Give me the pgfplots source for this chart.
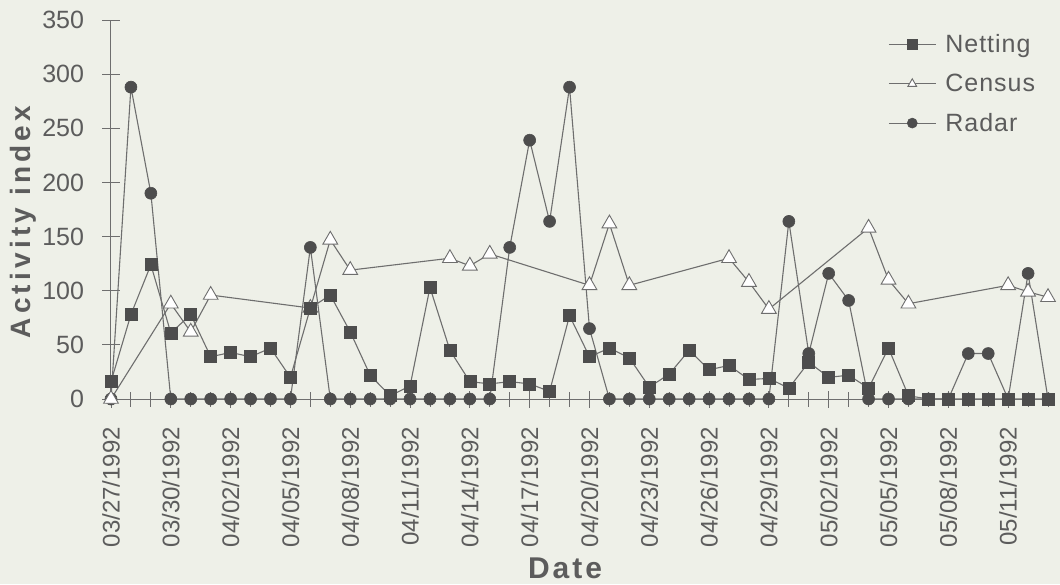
\documentclass[border=0pt]{standalone}
\usepackage{fontspec}
\setmainfont{Liberation Sans}
\newfontfamily\ylabfont[LetterSpace=15]{Liberation Sans Bold}
\newfontfamily\xlabfont[LetterSpace=10]{Liberation Sans Bold}
\newfontfamily\legfont[LetterSpace=4]{Liberation Sans}
\usepackage{pgfplots}
\pgfplotsset{compat=1.18}
\definecolor{bg}{HTML}{EEF0E8}
\definecolor{txt}{HTML}{5C5C5C}
\definecolor{ln}{HTML}{6E6E6E}
\definecolor{mk}{HTML}{4D4D4D}

\pgfplotstableread{
d v
0 16
1 78
2 124
3 61
4 78
5 39
6 43
7 39
8 47
9 20
10 84
11 96
12 62
13 22
14 3
15 12
16 103
17 45
18 16
19 14
20 16
21 14
22 7
23 77
24 39
25 47
26 38
27 11
28 23
29 45
30 27
31 31
32 18
33 19
34 10
35 34
36 20
37 22
38 10
39 47
40 3
41 0
42 0
43 0
44 0
45 0
46 0
47 0
}\netting

\pgfplotstableread{
d v
0 0
3 88
4 62
5 96
10 84
11 147
12 119
17 130
18 123
19 134
24 105
25 162
26 105
31 130
32 108
33 83
38 158
39 110
40 88
45 105
46 99
47 94
}\census

\pgfplotstableread{
d v
0 0
1 288
2 190
3 0
4 0
5 0
6 0
7 0
8 0
9 0
10 140
11 0
12 0
13 0
14 0
15 0
16 0
17 0
18 0
19 0
20 140
21 239
22 164
23 288
24 65
25 0
26 0
27 0
28 0
29 0
30 0
31 0
32 0
33 0
34 164
35 42
36 116
37 91
38 0
39 0
40 0
41 0
42 0
43 42
44 42
45 0
46 116
47 0
}\radar

\begin{document}
\begin{tikzpicture}[x=1pt,y=1pt]
\fill[bg] (-111,-185) rectangle (949,399);
\begin{axis}[
  at={(0,0)}, anchor=south west,
  scale only axis, width=939pt, height=379pt,
  xmin=0, xmax=47.1, ymin=0, ymax=350,
  axis x line=bottom, axis y line=left,
  axis line style={-, draw=ln, line width=1pt},
  clip=false,
  /pgf/number format/assume math mode=true,
  ytick={0,50,...,350},
  xtick={0,3,...,45},
  minor xtick={0,...,47},
  tick align=center,
  major tick length=17pt, minor tick length=15pt,
  tick style={draw=ln, line width=0.9pt},
  xticklabels={03/27/1992,03/30/1992,04/02/1992,04/05/1992,04/08/1992,04/11/1992,04/14/1992,04/17/1992,04/20/1992,04/23/1992,04/26/1992,04/29/1992,05/02/1992,05/05/1992,05/08/1992,05/11/1992},
  xticklabel style={rotate=90, anchor=east, font=\fontsize{24}{24}\selectfont, text=txt, xshift=-16pt},
  yticklabel style={anchor=east, font=\fontsize{25}{25}\selectfont, text=txt, xshift=-15pt},
  xlabel={\xlabfont Date},
  xlabel style={at={(axis description cs:0.4835,0)}, anchor=center, yshift=-169pt, font=\fontsize{30}{30}\selectfont, text=txt},
  ylabel={\ylabfont Activity index},
  ylabel style={at={(axis description cs:0,0.467)}, anchor=center, yshift=88pt, font=\fontsize{28}{28}\selectfont, text=txt},
  legend style={at={(axis description cs:0.8275,0.967)}, anchor=north west, draw=none, fill=none,
    font=\legfont\fontsize{25}{30}\selectfont, text=txt, row sep=16pt, column sep=7pt, inner sep=0pt},
  legend cell align=left,
  reverse legend,
  legend image code/.code={%
    \draw[#1, mark=none] (0pt,0pt) -- (47pt,0pt);
    \draw[#1, only marks, mark size=5pt] plot coordinates {(23.5pt,0pt)};},
]
\addplot[draw=ln, line width=1.1pt, mark=*, mark size=6pt, mark options={fill=mk, draw=mk, line width=0.6pt}] table[x=d,y=v] {\radar};
\addlegendentry{Radar}
\addplot[draw=ln, line width=1.1pt, mark=triangle*, mark size=8.5pt, mark options={fill=white, draw=ln, line width=0.9pt}] table[x=d,y=v] {\census};
\addlegendentry{Census}
\addplot[draw=ln, line width=1.1pt, mark=square*, mark size=6pt, mark options={fill=mk, draw=mk, line width=0.6pt}] table[x=d,y=v] {\netting};
\addlegendentry{Netting}
\end{axis}
\pgfresetboundingbox
\useasboundingbox (-111,-185) rectangle (949,399);
\end{tikzpicture}
\end{document}
